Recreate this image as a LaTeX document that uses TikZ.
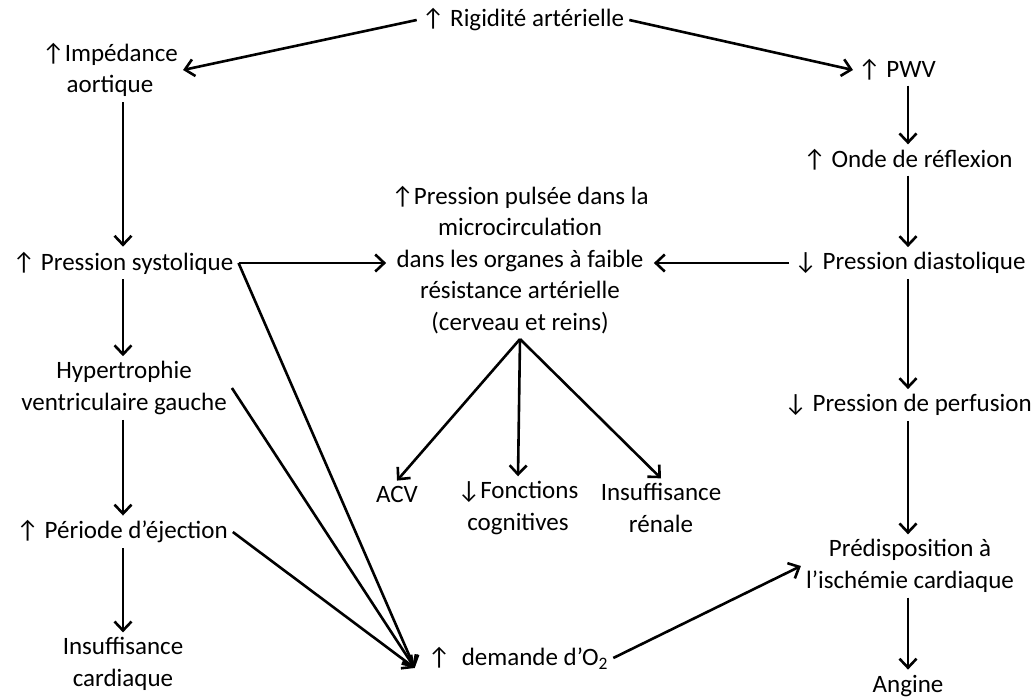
\documentclass[tikz,border=0pt]{standalone}
\usepackage{fontspec}
\setmainfont{Carlito}
\usetikzlibrary{arrows.meta,calc}
\newcommand{\haut}{↑}
\newcommand{\bas}{↓}

\begin{document}
\begin{tikzpicture}[x=1pt, y=-1pt, font=\fontsize{25}{31.5}\selectfont,
    every node/.style={align=center, inner sep=5pt},
    fleche/.style={-{Straight Barb[length=9pt,width=17pt]}, line width=2.6pt}]
        \useasboundingbox (0,0) rectangle (1035,696);
        % colonne de gauche
        \node (imp) at (110,70) {\haut Impédance\\aortique};
        \node (psys) at (123,263) {\haut\ Pression systolique};
        \node (hvg) at (124,388) {Hypertrophie\\ventriculaire gauche};
        \node (pej) at (122,532) {\haut\ Période d’éjection};
        \node (insc) at (123,664) {Insuffisance\\cardiaque};
        % centre
        \node (rig) at (523,20) {\haut\ Rigidité artérielle};
        \node (ppuls) at (520,260) {\haut Pression pulsée dans la\\microcirculation\\dans les organes à faible\\résistance artérielle\\(cerveau et reins)};
        \node (acv) at (397,494) {ACV};
        \node (fcog) at (518,508) {\bas Fonctions\\cognitives};
        \node (insr) at (661,508) {Insuffisance\\rénale};
        \node (dem) at (518,658) {\haut\ \ demande d’O\textsubscript{2}};
        \coordinate (demin) at ($(dem.west)+(-8,10)$);
        % colonne de droite
        \node (pwv) at (897,70) {\haut\ PWV};
        \node (onde) at (908,160) {\haut\ Onde de réflexion};
        \node (pdia) at (910,263) {\bas\ Pression diastolique};
        \node (pperf) at (908,405) {\bas\ Pression de perfusion};
        \node (pred) at (910,566) {Prédisposition à\\l’ischémie cardiaque};
        \node[anchor=base] (ang) at (908,692) {Angine};
        % fleches
        \draw[fleche] (rig.west) -- (imp.east);
        \draw[fleche] (rig.east) -- (pwv.west);
        \draw[fleche] (psys.north |- imp.south) -- (psys.north);
        \draw[fleche] (psys.south) -- (psys.south |- hvg.north);
        \draw[fleche] (psys.south |- hvg.south) -- (psys.south |- pej.north);
        \draw[fleche] (psys.south |- pej.south) -- (psys.south |- insc.north);
        \draw[fleche] (onde.north |- pwv.south) -- (onde.north);
        \draw[fleche] (onde.south) -- (onde.south |- pdia.north);
        \draw[fleche] (onde.south |- pdia.south) -- (pperf.north);
        \draw[fleche] (pperf.south) -- (pperf.south |- pred.north);
        \draw[fleche] (pperf.south |- pred.south) -- (ang.north);
        \draw[fleche] (psys.east) -- (ppuls.west |- psys.east);
        \draw[fleche] (pdia.west) -- (ppuls.east |- pdia.west);
        \draw[fleche] (psys.east) -- (demin);
        \draw[fleche] (hvg.east) -- (demin);
        \draw[fleche] (pej.east) -- (demin);
        \draw[fleche] (ppuls.south) -- (acv.north);
        \draw[fleche] (ppuls.south) -- (fcog.north);
        \draw[fleche] (ppuls.south) -- (insr.north);
        \draw[fleche] (dem.east) -- (pred.west);
\end{tikzpicture}
\end{document}
